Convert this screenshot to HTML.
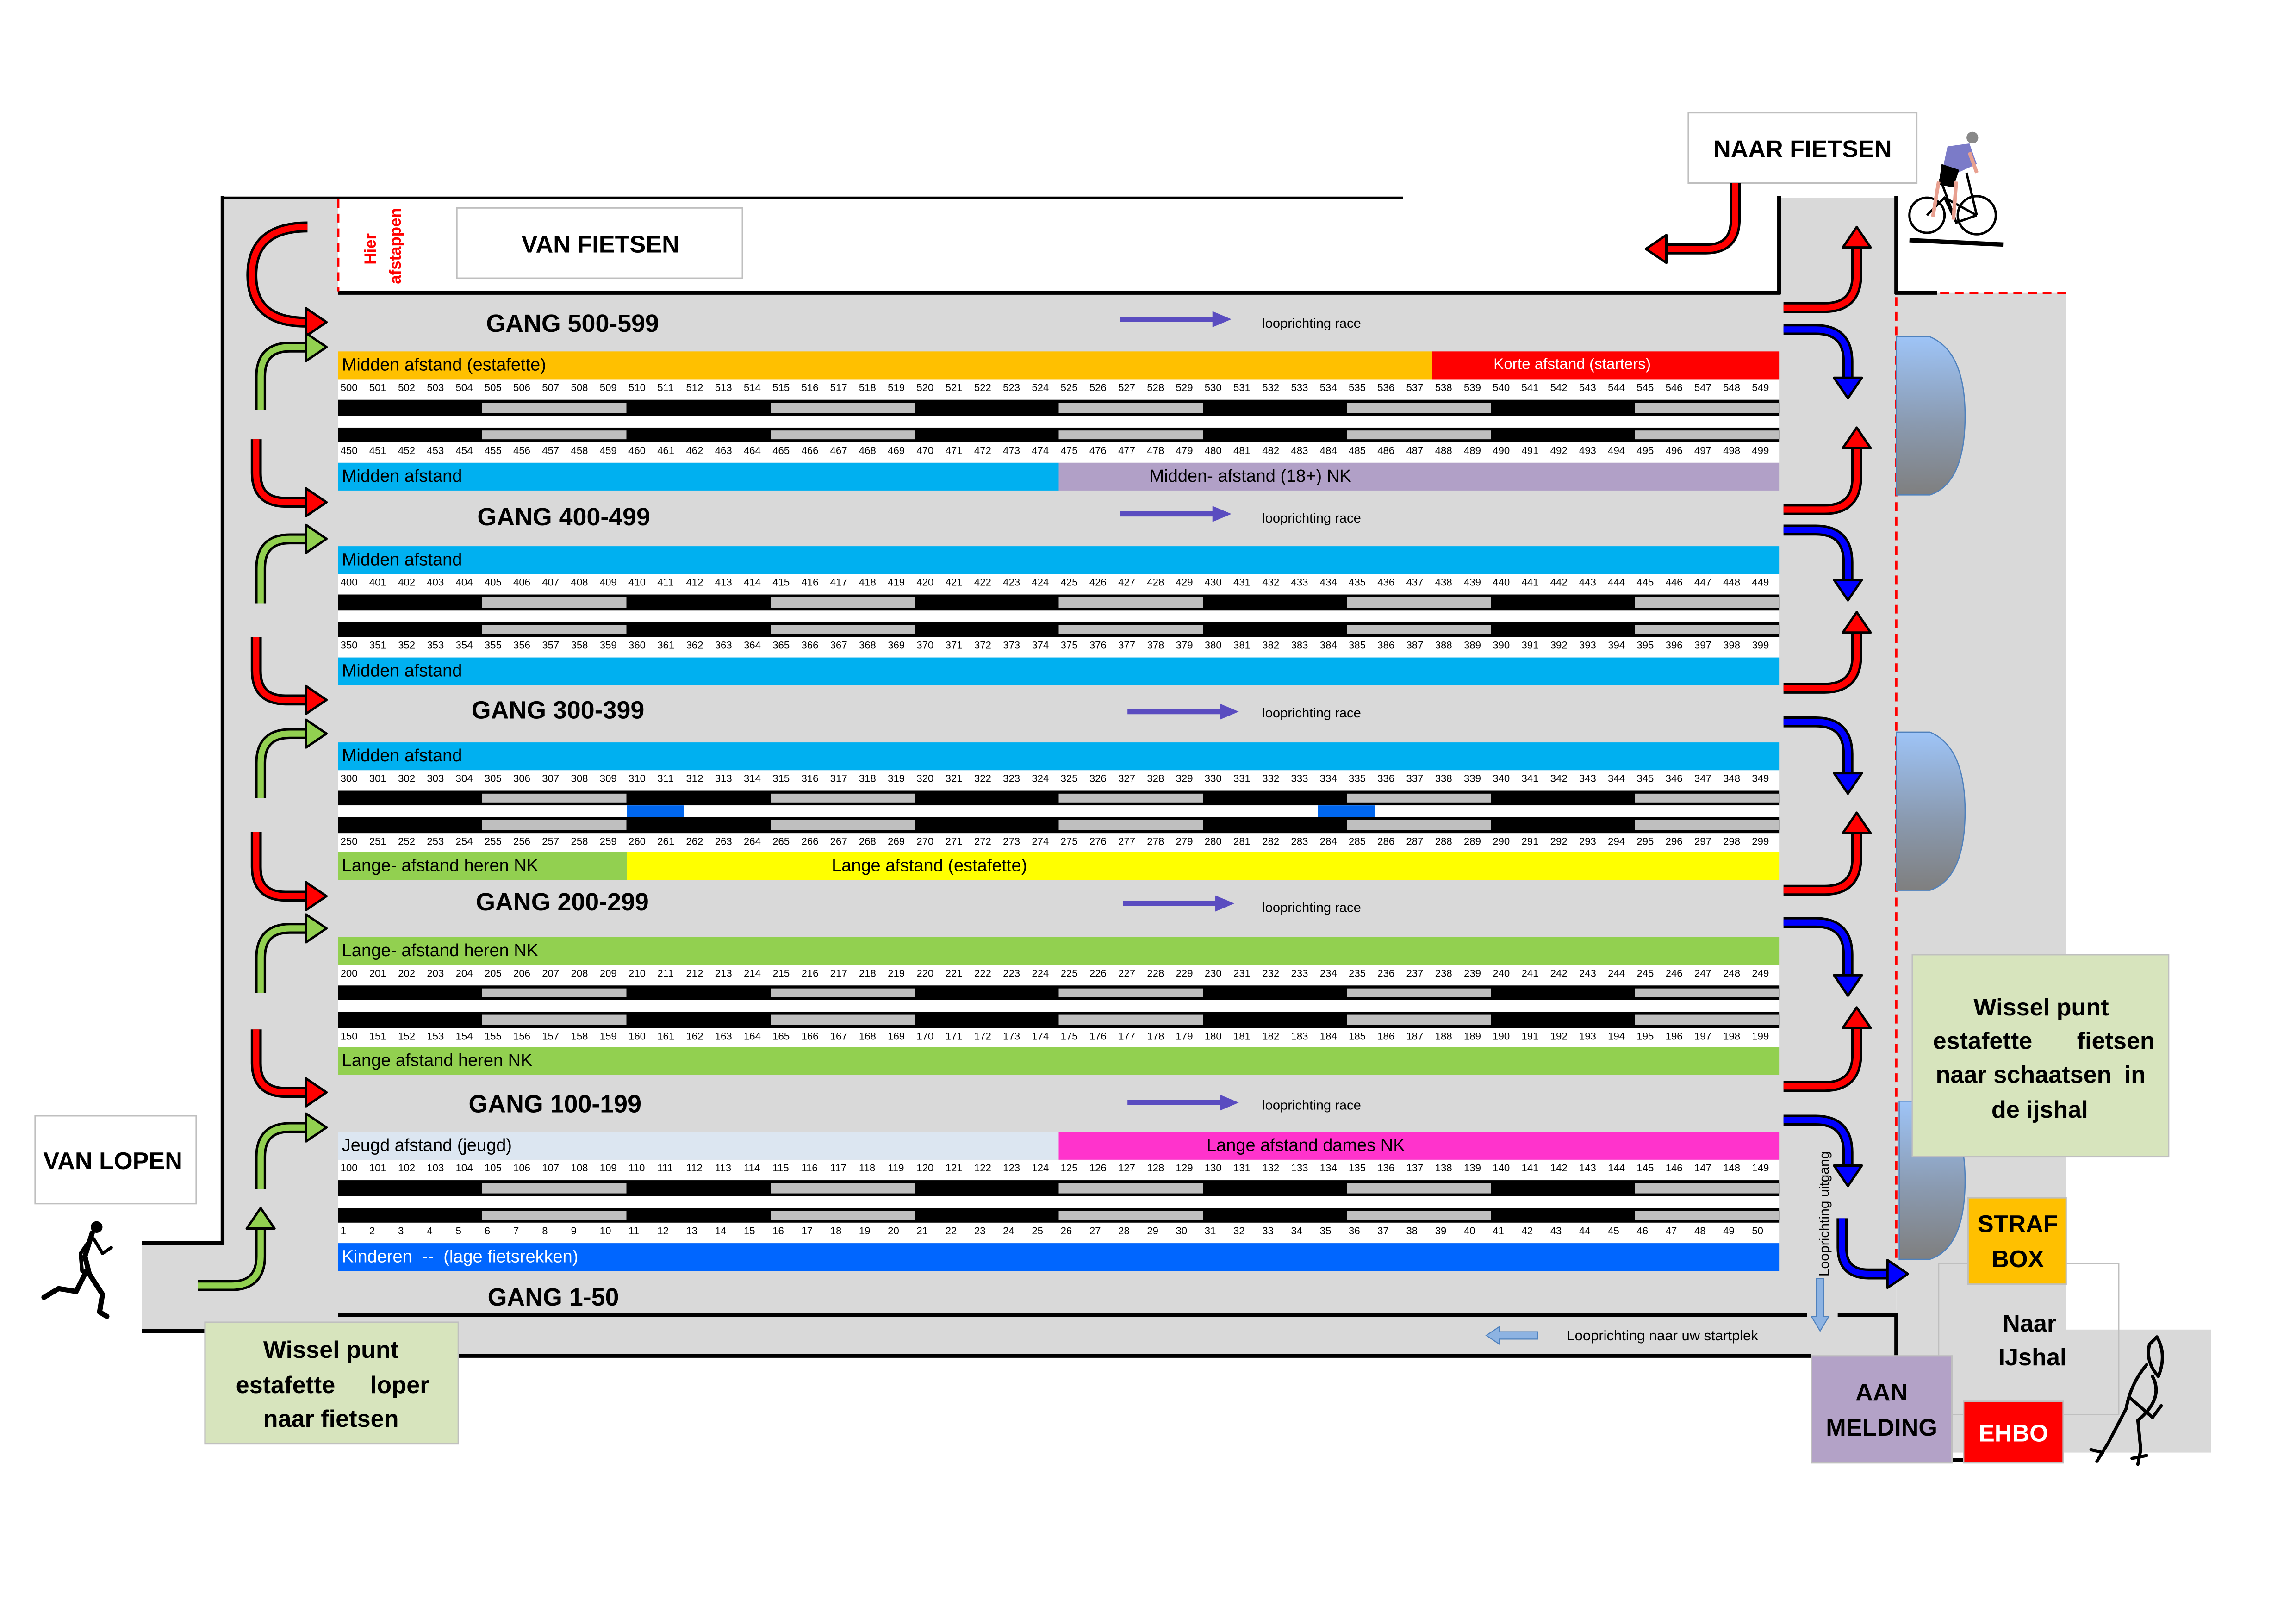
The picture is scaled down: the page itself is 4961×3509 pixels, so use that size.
<!DOCTYPE html>
<html><head><meta charset="utf-8">
<style>
html,body{margin:0;padding:0;background:#fff;width:4961px;height:3508px;overflow:hidden}
#c{position:absolute;left:0;top:0;width:1568px;height:1109px;transform:scale(3.16390);transform-origin:0 0;font-family:"Liberation Sans",sans-serif}
svg{position:absolute;left:0;top:0}
.blk{position:absolute;left:231px;width:984px}
.lb{display:flex;height:19px}
.lb div{height:19px;line-height:19px;font-size:12px;padding-left:2.5px;box-sizing:border-box;white-space:pre;overflow:hidden;flex:none}
.nm{display:flex;height:14px;background:#fff}
.nm i{font-style:normal;width:19.68px;flex:none;font-size:7px;line-height:14px;padding-left:1.5px;box-sizing:border-box}
.nm.b i{line-height:13px}
.nm.b{height:13.5px}
.bk{background:#000;padding:2px 0;height:10.5px;box-sizing:border-box}
.bk div{height:100%;background:repeating-linear-gradient(90deg,#000 0 98.4px,#bfbfbf 98.4px 196.8px)}
.gap{height:8px;background:#fff;position:relative}
.gap s{position:absolute;top:0;height:8px;width:39px;background:#0066ee}
</style></head><body><div id="c">
<svg width="1568" height="1109" viewBox="0 0 1568 1109">
<defs>
<linearGradient id="gd" x1="0" y1="0" x2="0" y2="1"><stop offset="0" stop-color="#9ec4f7"/><stop offset="0.55" stop-color="#8a9ab0"/><stop offset="1" stop-color="#7f7f7f"/></linearGradient>
</defs>
<g fill="#d9d9d9">
<rect x="152" y="135" width="79" height="66"/>
<rect x="152" y="200" width="1143" height="726"/>
<rect x="1215" y="135" width="80" height="66"/>
<rect x="97" y="849" width="56" height="60"/>
<rect x="1295" y="200" width="116" height="792"/>
<rect x="1411" y="908" width="99" height="84"/>
</g>
<rect x="1324" y="863" width="123" height="103" fill="none" stroke="#bfbfbf" stroke-width="0.8"/>
<g stroke="#000" fill="none">
<line x1="152" y1="135" x2="958" y2="135" stroke-width="1.5"/>
<g stroke-width="2.6">
<line x1="152" y1="134" x2="152" y2="850"/>
<line x1="97" y1="849" x2="153" y2="849"/>
<line x1="97" y1="909" x2="140" y2="909"/>
<line x1="231" y1="200" x2="1216" y2="200"/>
<line x1="1215" y1="134" x2="1215" y2="201"/>
<line x1="1295" y1="134" x2="1295" y2="201"/>
<line x1="1294" y1="200" x2="1323" y2="200"/>
<line x1="231" y1="898" x2="1234" y2="898"/>
<line x1="1255" y1="898" x2="1296" y2="898"/>
<line x1="1295" y1="897" x2="1295" y2="926"/>
<line x1="313" y1="926" x2="1237" y2="926"/>
<line x1="1333" y1="997" x2="1341" y2="997"/>
</g>
</g>
<g stroke="#ff0000" stroke-width="1.6" stroke-dasharray="6 4" fill="none">
<line x1="231" y1="136" x2="231" y2="199"/>
<line x1="1295" y1="203" x2="1295" y2="860"/>
<line x1="1325" y1="200" x2="1411" y2="200"/>
</g>
<g fill="url(#gd)" stroke="#4f81bd" stroke-width="0.8">
<path d="M1295,230 H1318 Q1342,240 1342,284 Q1342,330 1318,338 H1295 Z"/>
<path d="M1295,500 H1318 Q1342,510 1342,554 Q1342,600 1318,608 H1295 Z"/>
<path d="M1297,752 H1318 Q1342,762 1342,806 Q1342,852 1318,860 H1297 Z"/>
</g>
<g stroke="#bfbfbf" stroke-width="1">
<rect x="312" y="142" width="195" height="48" fill="#fff"/>
<rect x="1153" y="77" width="156" height="48" fill="#fff"/>
<rect x="24" y="762" width="110" height="60" fill="#fff"/>
<rect x="140" y="903" width="173" height="83" fill="#d7e4bd"/>
<rect x="1306" y="652" width="175" height="138" fill="#d7e4bd"/>
<rect x="1344" y="818" width="67" height="59" fill="#ffc000"/>
<rect x="1237" y="926" width="96" height="73" fill="#b3a2c7"/>
<rect x="1341" y="957" width="68" height="42" fill="#ff0000"/>
</g>
<g font-weight="bold" font-size="16.5" dominant-baseline="central" text-anchor="middle" fill="#000">
<text x="410" y="167">VAN FIETSEN</text>
<text x="1231" y="102">NAAR FIETSEN</text>
<text x="77" y="793">VAN LOPEN</text>
<text x="226" y="922">Wissel punt</text>
<text x="195" y="946">estafette</text>
<text x="273" y="946">loper</text>
<text x="226" y="969">naar fietsen</text>
<text x="1394" y="688">Wissel punt</text>
<text x="1354" y="711">estafette</text>
<text x="1445" y="711">fietsen</text>
<text x="1382" y="734">naar schaatsen</text>
<text x="1458" y="734">in</text>
<text x="1393" y="758">de ijshal</text>
<text x="1378" y="836">STRAF</text>
<text x="1378" y="860">BOX</text>
<text x="1285" y="951">AAN</text>
<text x="1285" y="975">MELDING</text>
<text x="1375" y="979" fill="#fff">EHBO</text>
<text x="1386" y="904">Naar</text>
<text x="1388" y="927">IJshal</text>
</g>
<g font-weight="bold" font-size="11" fill="#ff0000" text-anchor="middle" dominant-baseline="central">
<text transform="translate(253,170) rotate(-90)">Hier</text>
<text transform="translate(270,168) rotate(-90)">afstappen</text>
</g>
<g font-weight="bold" font-size="17" dominant-baseline="central">
<text x="332" y="221">GANG 500-599</text>
<text x="326" y="353">GANG 400-499</text>
<text x="322" y="485">GANG 300-399</text>
<text x="325" y="616">GANG 200-299</text>
<text x="320" y="754">GANG 100-199</text>
<text x="333" y="886">GANG 1-50</text>
</g>
<g font-size="9.2" dominant-baseline="central">
<text x="862" y="221">looprichting race</text>
<text x="862" y="354">looprichting race</text>
<text x="862" y="487">looprichting race</text>
<text x="862" y="620">looprichting race</text>
<text x="862" y="755">looprichting race</text>
<text x="1070" y="912" font-size="9.8">Looprichting naar uw startplek</text>
<text transform="translate(1246,829) rotate(-90)" text-anchor="middle" font-size="9.5">Looprichting uitgang</text>
</g>
<g stroke="#5a4cc0" stroke-width="3.5" fill="#5a4cc0">
<line x1="765" y1="218" x2="830" y2="218"/><polygon stroke="none" points="841,218 828,212.5 828,223.5"/>
<line x1="765" y1="351" x2="830" y2="351"/><polygon stroke="none" points="841,351 828,345.5 828,356.5"/>
<line x1="770" y1="486" x2="835" y2="486"/><polygon stroke="none" points="846,486 833,480.5 833,491.5"/>
<line x1="767" y1="617" x2="832" y2="617"/><polygon stroke="none" points="843,617 830,611.5 830,622.5"/>
<line x1="770" y1="753" x2="835" y2="753"/><polygon stroke="none" points="846,753 833,747.5 833,758.5"/>
</g>
<g fill="#8db3e2" stroke="#4f81bd" stroke-width="0.7">
<polygon points="1015,912 1024,906 1024,909.5 1050,909.5 1050,914.5 1024,914.5 1024,918"/>
<polygon points="1243,909 1237,899 1240.5,899 1240.5,873 1245.5,873 1245.5,899 1249,899"/>
</g>
<g fill="none" stroke-linecap="butt">
<g stroke="#000" stroke-width="7.5">
<path d="M210,155 Q172,155 172,188 Q172,220 209,220"/>
<path d="M175,300 V323 Q175,343 195,343 H209"/>
<path d="M175,435 V458 Q175,478 195,478 H209"/>
<path d="M175,568 V592 Q175,612 195,612 H209"/>
<path d="M175,703 V726 Q175,746 195,746 H209"/>
<path d="M178,280 V257 Q178,237 198,237 H209"/>
<path d="M178,412 V388 Q178,368 198,368 H209"/>
<path d="M178,545 V521 Q178,501 198,501 H209"/>
<path d="M178,678 V654 Q178,634 198,634 H209"/>
<path d="M178,812 V790 Q178,770 198,770 H209"/>
<path d="M135,878 H158 Q178,878 178,858 V839"/>
<path d="M1218,210 H1246 Q1268,210 1268,188 V169"/>
<path d="M1218,348 H1246 Q1268,348 1268,326 V306"/>
<path d="M1218,470 H1246 Q1268,470 1268,448 V432"/>
<path d="M1218,608 H1246 Q1268,608 1268,586 V569"/>
<path d="M1218,742 H1246 Q1268,742 1268,720 V702"/>
<path d="M1218,225 H1240 Q1262,225 1262,247 V258"/>
<path d="M1218,362 H1240 Q1262,362 1262,384 V396"/>
<path d="M1218,493 H1240 Q1262,493 1262,515 V528"/>
<path d="M1218,630 H1240 Q1262,630 1262,652 V666"/>
<path d="M1218,765 H1240 Q1262,765 1262,787 V796"/>
<path d="M1258,832 V852 Q1258,870 1276,870 H1289"/>
<path d="M1185,125 V150 Q1185,170 1165,170 H1138"/>
</g>
<g stroke-width="4.2">
<g stroke="#ff0000">
<path d="M210,155 Q172,155 172,188 Q172,220 209,220"/>
<path d="M175,300 V323 Q175,343 195,343 H209"/>
<path d="M175,435 V458 Q175,478 195,478 H209"/>
<path d="M175,568 V592 Q175,612 195,612 H209"/>
<path d="M175,703 V726 Q175,746 195,746 H209"/>
<path d="M1218,210 H1246 Q1268,210 1268,188 V169"/>
<path d="M1218,348 H1246 Q1268,348 1268,326 V306"/>
<path d="M1218,470 H1246 Q1268,470 1268,448 V432"/>
<path d="M1218,608 H1246 Q1268,608 1268,586 V569"/>
<path d="M1218,742 H1246 Q1268,742 1268,720 V702"/>
<path d="M1185,125 V150 Q1185,170 1165,170 H1138"/>
</g>
<g stroke="#92d050">
<path d="M178,280 V257 Q178,237 198,237 H209"/>
<path d="M178,412 V388 Q178,368 198,368 H209"/>
<path d="M178,545 V521 Q178,501 198,501 H209"/>
<path d="M178,678 V654 Q178,634 198,634 H209"/>
<path d="M178,812 V790 Q178,770 198,770 H209"/>
<path d="M135,878 H158 Q178,878 178,858 V839"/>
</g>
<g stroke="#0000ff">
<path d="M1218,225 H1240 Q1262,225 1262,247 V258"/>
<path d="M1218,362 H1240 Q1262,362 1262,384 V396"/>
<path d="M1218,493 H1240 Q1262,493 1262,515 V528"/>
<path d="M1218,630 H1240 Q1262,630 1262,652 V666"/>
<path d="M1218,765 H1240 Q1262,765 1262,787 V796"/>
<path d="M1258,832 V852 Q1258,870 1276,870 H1289"/>
</g>
</g>
</g>
<g stroke="#000" stroke-width="1.6" stroke-linejoin="round">
<g fill="#ff0000">
<polygon points="223,220 209,210.5 209,229.5"/>
<polygon points="223,343 209,333.5 209,352.5"/>
<polygon points="223,478 209,468.5 209,487.5"/>
<polygon points="223,612 209,602.5 209,621.5"/>
<polygon points="223,746 209,736.5 209,755.5"/>
<polygon points="1268,155 1258.5,169 1277.5,169"/>
<polygon points="1268,292 1258.5,306 1277.5,306"/>
<polygon points="1268,418 1258.5,432 1277.5,432"/>
<polygon points="1268,555 1258.5,569 1277.5,569"/>
<polygon points="1268,688 1258.5,702 1277.5,702"/>
<polygon points="1124,170 1138,160.5 1138,179.5"/>
</g>
<g fill="#92d050">
<polygon points="223,237 209,227.5 209,246.5"/>
<polygon points="223,368 209,358.5 209,377.5"/>
<polygon points="223,501 209,491.5 209,510.5"/>
<polygon points="223,634 209,624.5 209,643.5"/>
<polygon points="223,770 209,760.5 209,779.5"/>
<polygon points="178,825 168.5,839 187.5,839"/>
</g>
<g fill="#0000ff">
<polygon points="1262,272 1252.5,258 1271.5,258"/>
<polygon points="1262,410 1252.5,396 1271.5,396"/>
<polygon points="1262,542 1252.5,528 1271.5,528"/>
<polygon points="1262,680 1252.5,666 1271.5,666"/>
<polygon points="1262,810 1252.5,796 1271.5,796"/>
<polygon points="1303,870 1289,860.5 1289,879.5"/>
</g>
</g>
<g fill="#000" stroke="#000" stroke-linecap="round" stroke-linejoin="round">
<circle cx="66" cy="838" r="3.5"/>
<path d="M63,842 L58,858 L61,870 L70,884 L68,896 L73,899" fill="none" stroke-width="3.5"/>
<path d="M59,868 L52,882 L40,880 L30,886" fill="none" stroke-width="3.5"/>
<path d="M62,846 L55,856 L56,868" fill="none" stroke-width="2.5"/>
<path d="M64,846 L70,856 L76,852" fill="none" stroke-width="2.2"/>
</g>
<g fill="none" stroke="#000" stroke-width="1.6">
<circle cx="1316" cy="147" r="12"/>
<circle cx="1350" cy="147" r="13"/>
<path d="M1316,147 L1328,135 L1350,147 M1328,135 L1336,152 L1350,147 M1325,122 L1336,152 M1343,118 L1350,147"/>
<path d="M1304,164 L1368,167" stroke-width="3"/>
</g>
<path d="M1330,100 L1345,98 L1350,112 L1337,118 L1327,114 Z" fill="#7b7bc8"/>
<path d="M1326,112 L1338,116 L1334,128 L1324,126 Z" fill="#000"/>
<path d="M1324,124 L1320,148 M1336,124 L1334,150 M1345,104 L1350,118" stroke="#e8a090" stroke-width="2.5" fill="none"/>
<circle cx="1347" cy="94" r="4" fill="#888"/>
<g fill="none" stroke="#000" stroke-width="2.2" stroke-linecap="round" stroke-linejoin="round">
<path d="M1473,913 Q1480,925 1474,940 Q1465,930 1468,918 Z"/>
<path d="M1466,932 Q1455,945 1452,962 L1440,985 L1432,998"/>
<path d="M1470,940 Q1478,955 1460,970 L1462,990 L1460,1000"/>
<path d="M1455,955 L1470,968 L1476,960"/>
<path d="M1428,990 L1436,992 M1456,996 L1466,994"/>
</g>
</svg>

<div class="blk" style="top:240px">
<div class="lb"><div style="width:747px;background:#ffc000">Midden afstand (estafette)</div><div style="width:237px;background:#ff0000;color:#fff;font-size:10.5px;padding-left:42px">Korte afstand (starters)</div></div>
<div class="nm"><i>500</i><i>501</i><i>502</i><i>503</i><i>504</i><i>505</i><i>506</i><i>507</i><i>508</i><i>509</i><i>510</i><i>511</i><i>512</i><i>513</i><i>514</i><i>515</i><i>516</i><i>517</i><i>518</i><i>519</i><i>520</i><i>521</i><i>522</i><i>523</i><i>524</i><i>525</i><i>526</i><i>527</i><i>528</i><i>529</i><i>530</i><i>531</i><i>532</i><i>533</i><i>534</i><i>535</i><i>536</i><i>537</i><i>538</i><i>539</i><i>540</i><i>541</i><i>542</i><i>543</i><i>544</i><i>545</i><i>546</i><i>547</i><i>548</i><i>549</i></div>
<div class="bk"><div></div></div><div class="gap"></div><div class="bk"><div></div></div>
<div class="nm b"><i>450</i><i>451</i><i>452</i><i>453</i><i>454</i><i>455</i><i>456</i><i>457</i><i>458</i><i>459</i><i>460</i><i>461</i><i>462</i><i>463</i><i>464</i><i>465</i><i>466</i><i>467</i><i>468</i><i>469</i><i>470</i><i>471</i><i>472</i><i>473</i><i>474</i><i>475</i><i>476</i><i>477</i><i>478</i><i>479</i><i>480</i><i>481</i><i>482</i><i>483</i><i>484</i><i>485</i><i>486</i><i>487</i><i>488</i><i>489</i><i>490</i><i>491</i><i>492</i><i>493</i><i>494</i><i>495</i><i>496</i><i>497</i><i>498</i><i>499</i></div>
<div class="lb"><div style="width:492px;background:#00b0f0">Midden afstand</div><div style="width:492px;background:#b1a0c7;padding-left:62px">Midden- afstand (18+) NK</div></div>
</div>

<div class="blk" style="top:373.25px">
<div class="lb"><div style="width:984px;background:#00b0f0">Midden afstand</div></div>
<div class="nm"><i>400</i><i>401</i><i>402</i><i>403</i><i>404</i><i>405</i><i>406</i><i>407</i><i>408</i><i>409</i><i>410</i><i>411</i><i>412</i><i>413</i><i>414</i><i>415</i><i>416</i><i>417</i><i>418</i><i>419</i><i>420</i><i>421</i><i>422</i><i>423</i><i>424</i><i>425</i><i>426</i><i>427</i><i>428</i><i>429</i><i>430</i><i>431</i><i>432</i><i>433</i><i>434</i><i>435</i><i>436</i><i>437</i><i>438</i><i>439</i><i>440</i><i>441</i><i>442</i><i>443</i><i>444</i><i>445</i><i>446</i><i>447</i><i>448</i><i>449</i></div>
<div class="bk"><div></div></div><div class="gap"></div><div class="bk"><div></div></div>
<div class="nm b"><i>350</i><i>351</i><i>352</i><i>353</i><i>354</i><i>355</i><i>356</i><i>357</i><i>358</i><i>359</i><i>360</i><i>361</i><i>362</i><i>363</i><i>364</i><i>365</i><i>366</i><i>367</i><i>368</i><i>369</i><i>370</i><i>371</i><i>372</i><i>373</i><i>374</i><i>375</i><i>376</i><i>377</i><i>378</i><i>379</i><i>380</i><i>381</i><i>382</i><i>383</i><i>384</i><i>385</i><i>386</i><i>387</i><i>388</i><i>389</i><i>390</i><i>391</i><i>392</i><i>393</i><i>394</i><i>395</i><i>396</i><i>397</i><i>398</i><i>399</i></div>
<div class="lb"><div style="width:984px;background:#00b0f0">Midden afstand</div></div>
</div>

<div class="blk" style="top:506.5px">
<div class="lb"><div style="width:984px;background:#00b0f0">Midden afstand</div></div>
<div class="nm"><i>300</i><i>301</i><i>302</i><i>303</i><i>304</i><i>305</i><i>306</i><i>307</i><i>308</i><i>309</i><i>310</i><i>311</i><i>312</i><i>313</i><i>314</i><i>315</i><i>316</i><i>317</i><i>318</i><i>319</i><i>320</i><i>321</i><i>322</i><i>323</i><i>324</i><i>325</i><i>326</i><i>327</i><i>328</i><i>329</i><i>330</i><i>331</i><i>332</i><i>333</i><i>334</i><i>335</i><i>336</i><i>337</i><i>338</i><i>339</i><i>340</i><i>341</i><i>342</i><i>343</i><i>344</i><i>345</i><i>346</i><i>347</i><i>348</i><i>349</i></div>
<div class="bk"><div></div></div><div class="gap"><s style="left:197px"></s><s style="left:669px"></s></div><div class="bk"><div></div></div>
<div class="nm b"><i>250</i><i>251</i><i>252</i><i>253</i><i>254</i><i>255</i><i>256</i><i>257</i><i>258</i><i>259</i><i>260</i><i>261</i><i>262</i><i>263</i><i>264</i><i>265</i><i>266</i><i>267</i><i>268</i><i>269</i><i>270</i><i>271</i><i>272</i><i>273</i><i>274</i><i>275</i><i>276</i><i>277</i><i>278</i><i>279</i><i>280</i><i>281</i><i>282</i><i>283</i><i>284</i><i>285</i><i>286</i><i>287</i><i>288</i><i>289</i><i>290</i><i>291</i><i>292</i><i>293</i><i>294</i><i>295</i><i>296</i><i>297</i><i>298</i><i>299</i></div>
<div class="lb"><div style="width:197px;background:#92d050">Lange- afstand heren NK</div><div style="width:787px;background:#ffff00;padding-left:140px">Lange afstand (estafette)</div></div>
</div>

<div class="blk" style="top:639.75px">
<div class="lb"><div style="width:984px;background:#92d050">Lange- afstand heren NK</div></div>
<div class="nm"><i>200</i><i>201</i><i>202</i><i>203</i><i>204</i><i>205</i><i>206</i><i>207</i><i>208</i><i>209</i><i>210</i><i>211</i><i>212</i><i>213</i><i>214</i><i>215</i><i>216</i><i>217</i><i>218</i><i>219</i><i>220</i><i>221</i><i>222</i><i>223</i><i>224</i><i>225</i><i>226</i><i>227</i><i>228</i><i>229</i><i>230</i><i>231</i><i>232</i><i>233</i><i>234</i><i>235</i><i>236</i><i>237</i><i>238</i><i>239</i><i>240</i><i>241</i><i>242</i><i>243</i><i>244</i><i>245</i><i>246</i><i>247</i><i>248</i><i>249</i></div>
<div class="bk"><div></div></div><div class="gap"></div><div class="bk"><div></div></div>
<div class="nm b"><i>150</i><i>151</i><i>152</i><i>153</i><i>154</i><i>155</i><i>156</i><i>157</i><i>158</i><i>159</i><i>160</i><i>161</i><i>162</i><i>163</i><i>164</i><i>165</i><i>166</i><i>167</i><i>168</i><i>169</i><i>170</i><i>171</i><i>172</i><i>173</i><i>174</i><i>175</i><i>176</i><i>177</i><i>178</i><i>179</i><i>180</i><i>181</i><i>182</i><i>183</i><i>184</i><i>185</i><i>186</i><i>187</i><i>188</i><i>189</i><i>190</i><i>191</i><i>192</i><i>193</i><i>194</i><i>195</i><i>196</i><i>197</i><i>198</i><i>199</i></div>
<div class="lb"><div style="width:984px;background:#92d050">Lange afstand heren NK</div></div>
</div>

<div class="blk" style="top:773px">
<div class="lb"><div style="width:492px;background:#dce6f1">Jeugd afstand (jeugd)</div><div style="width:492px;background:#ff33cc;padding-left:101px">Lange afstand dames NK</div></div>
<div class="nm"><i>100</i><i>101</i><i>102</i><i>103</i><i>104</i><i>105</i><i>106</i><i>107</i><i>108</i><i>109</i><i>110</i><i>111</i><i>112</i><i>113</i><i>114</i><i>115</i><i>116</i><i>117</i><i>118</i><i>119</i><i>120</i><i>121</i><i>122</i><i>123</i><i>124</i><i>125</i><i>126</i><i>127</i><i>128</i><i>129</i><i>130</i><i>131</i><i>132</i><i>133</i><i>134</i><i>135</i><i>136</i><i>137</i><i>138</i><i>139</i><i>140</i><i>141</i><i>142</i><i>143</i><i>144</i><i>145</i><i>146</i><i>147</i><i>148</i><i>149</i></div>
<div class="bk"><div></div></div><div class="gap"></div><div class="bk"><div></div></div>
<div class="nm b"><i>1</i><i>2</i><i>3</i><i>4</i><i>5</i><i>6</i><i>7</i><i>8</i><i>9</i><i>10</i><i>11</i><i>12</i><i>13</i><i>14</i><i>15</i><i>16</i><i>17</i><i>18</i><i>19</i><i>20</i><i>21</i><i>22</i><i>23</i><i>24</i><i>25</i><i>26</i><i>27</i><i>28</i><i>29</i><i>30</i><i>31</i><i>32</i><i>33</i><i>34</i><i>35</i><i>36</i><i>37</i><i>38</i><i>39</i><i>40</i><i>41</i><i>42</i><i>43</i><i>44</i><i>45</i><i>46</i><i>47</i><i>48</i><i>49</i><i>50</i></div>
<div class="lb"><div style="width:984px;background:#0066ff;color:#fff">Kinderen  --  (lage fietsrekken)</div></div>
</div>
</div></body></html>
